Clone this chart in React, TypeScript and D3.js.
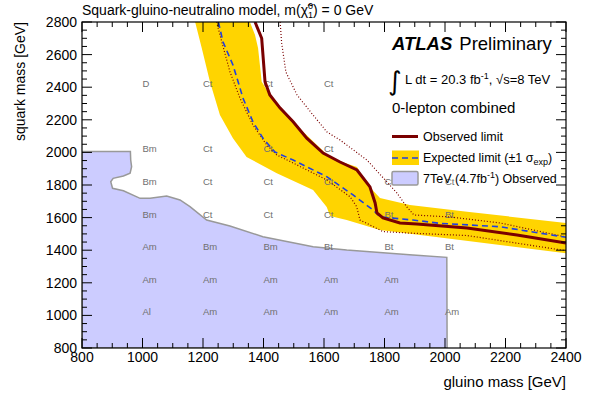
import React, { useEffect } from "react";
import * as d3 from "d3";

const W = 596;
const H = 397;

const xTicks = [800, 1000, 1200, 1400, 1600, 1800, 2000, 2200, 2400];
const yTicks = [800, 1000, 1200, 1400, 1600, 1800, 2000, 2200, 2400, 2600, 2800];

// [gluino, squark]
const observed: [number, number][] = [
  [1372, 2800], [1394, 2700], [1405, 2434], [1421, 2352], [1455, 2272], [1498, 2188],
  [1543, 2087], [1597, 1996], [1653, 1941], [1709, 1892], [1752, 1788], [1769, 1690],
  [1775, 1628], [1795, 1598], [1851, 1567], [1907, 1561], [2073, 1536], [2238, 1493], [2400, 1444],
];
const expected: [number, number][] = [
  [1251, 2800], [1266, 2679], [1299, 2536], [1316, 2434], [1332, 2334], [1365, 2188],
  [1398, 2088], [1438, 2002], [1498, 1953], [1609, 1851], [1696, 1739], [1762, 1647],
  [1785, 1604], [1894, 1585], [1983, 1565], [2182, 1544], [2400, 1479],
];
const obsMinus: [number, number][] = [
  [1245, 2800], [1262, 2679], [1289, 2495], [1322, 2334], [1365, 2168], [1411, 2045],
  [1444, 1984], [1498, 1935], [1609, 1831], [1686, 1728], [1708, 1667], [1719, 1585],
  [1741, 1565], [1795, 1514], [1894, 1504], [2073, 1490], [2400, 1397],
];
const obsPlus: [number, number][] = [
  [1455, 2800], [1460, 2671], [1474, 2493], [1511, 2352], [1564, 2229], [1610, 2125],
  [1653, 2076], [1742, 1953], [1802, 1831], [1841, 1751], [1874, 1665], [1897, 1616],
  [2017, 1604], [2182, 1567], [2400, 1481],
];
const bandUpper: [number, number][] = [
  [1355, 2800], [1372, 2720], [1382, 2640], [1394, 2434], [1427, 2334], [1477, 2229],
  [1531, 2127], [1587, 2027], [1620, 1966], [1709, 1910], [1739, 1812], [1785, 1720],
  [1884, 1677], [2073, 1636], [2400, 1567],
];
const bandLower: [number, number][] = [
  [1174, 2800], [1196, 2639], [1223, 2434], [1256, 2229], [1299, 2087], [1344, 1972],
  [1444, 1872], [1564, 1769], [1609, 1665], [1620, 1610], [1675, 1585], [1785, 1524],
  [2050, 1463], [2400, 1381],
];
const excluded7TeV: [number, number][] = [
  [800, 2005], [960, 2005], [961, 1953], [964, 1912], [959, 1872], [937, 1855], [903, 1841],
  [895, 1820], [901, 1780], [937, 1765], [992, 1718], [1025, 1718], [1080, 1733],
  [1124, 1708], [1157, 1667], [1212, 1585], [1289, 1548], [1398, 1483], [1564, 1421],
  [1675, 1401], [1894, 1371], [2006, 1356], [2007, 800], [800, 800],
];

const labelGluino = [1000, 1200, 1400, 1600, 1800, 2000];
const labelSquark = [2400, 2000, 1800, 1600, 1400, 1200, 1000];
const labelRows = [
  ["D", "Ct", "Ct", "Ct", "", ""],
  ["Bm", "Ct", "Ct", "Ct", "", ""],
  ["Bm", "Ct", "Ct", "Ct", "Ct", "Ct"],
  ["Bm", "Ct", "Ct", "Ct", "Bt", "Bt"],
  ["Am", "Bm", "Bm", "Bt", "Bt", "Bt"],
  ["Am", "Am", "Am", "Am", "Am", ""],
  ["Al", "Am", "Am", "Am", "Am", "Am"],
];

const FONT = "'Liberation Sans', Arial, Helvetica, sans-serif";
const X0 = 82, X1 = 566, Y0 = 22, Y1 = 348;

export default function App() {
  useEffect(() => {
    document.body.style.margin = "0";
  }, []);
  const x = d3.scaleLinear().domain([800, 2400]).range([X0, X1]);
  const y = d3.scaleLinear().domain([800, 2800]).range([Y1, Y0]);
  const line = d3.line<[number, number]>().x((d) => x(d[0])).y((d) => y(d[1]));
  const band = line([...bandUpper, ...bandLower.slice().reverse()]) + "Z";

  const xMinor = d3.range(800, 2401, 50);
  const yMinor = d3.range(800, 2801, 50);
  const isMajor = (v: number) => v % 200 === 0;

  return (
    <svg width={W} height={H} style={{ position: "absolute", left: 0, top: 0, background: "#fff" }} fontFamily={FONT}>
      <defs>
        <clipPath id="plot">
          <rect x={X0} y={Y0} width={X1 - X0} height={Y1 - Y0} />
        </clipPath>
      </defs>
      <rect x={0} y={0} width={W} height={H} fill="#fff" />
      <g clipPath="url(#plot)">
        <path d={line(excluded7TeV) + "Z"} fill="#ccccff" stroke="#999" strokeWidth={1.5} />
        <path d={band} fill="#ffd400" />
        {labelRows.map((row, i) =>
          row.map((t, j) =>
            t ? (
              <text key={`${i}-${j}`} x={x(labelGluino[j])} y={y(labelSquark[i])} fontSize={9.5} fill="#707070">
                {t}
              </text>
            ) : null
          )
        )}
        <path d={line(obsMinus)!} fill="none" stroke="#7a0000" strokeWidth={1.2} strokeDasharray="1 2" />
        <path d={line(obsPlus)!} fill="none" stroke="#7a0000" strokeWidth={1.2} strokeDasharray="1 2" />
        <path d={line(expected)!} fill="none" stroke="#2040e0" strokeWidth={1.6} strokeDasharray="6 4" />
        <path d={line(observed)!} fill="none" stroke="#7a0000" strokeWidth={3} />
      </g>
      {xMinor.map((v) => {
        const l = isMajor(v) ? 10 : 5;
        return (
          <g key={"xt" + v} stroke="#000" strokeWidth={1}>
            <line x1={x(v)} x2={x(v)} y1={Y1} y2={Y1 - l} />
            <line x1={x(v)} x2={x(v)} y1={Y0} y2={Y0 + l} />
          </g>
        );
      })}
      {yMinor.map((v) => {
        const l = isMajor(v) ? 10 : 5;
        return (
          <g key={"yt" + v} stroke="#000" strokeWidth={1}>
            <line x1={X0} x2={X0 + l} y1={y(v)} y2={y(v)} />
            <line x1={X1} x2={X1 - l} y1={y(v)} y2={y(v)} />
          </g>
        );
      })}
      <rect x={X0} y={Y0} width={X1 - X0} height={Y1 - Y0} fill="none" stroke="#000" strokeWidth={1.2} />
      {xTicks.map((v) => (
        <text key={"xl" + v} x={x(v)} y={Y1 + 14} textAnchor="middle" fontSize={14}>
          {v}
        </text>
      ))}
      {yTicks.map((v) => (
        <text key={"yl" + v} x={X0 - 5} y={y(v) + 5} textAnchor="end" fontSize={14}>
          {v}
        </text>
      ))}
      <text x={X1} y={387} textAnchor="end" fontSize={15}>gluino mass [GeV]</text>
      <text transform={`translate(25,${Y0}) rotate(-90)`} textAnchor="end" fontSize={14}>squark mass [GeV]</text>
      <text x={X0} y={15} fontSize={14}>
        Squark-gluino-neutralino model, m(
        <tspan>χ̃</tspan>
        <tspan fontSize={9} dy={-6}>0</tspan>
        <tspan fontSize={9} dx={-5} dy={9}>1</tspan>
        <tspan dy={-3}>) = 0 GeV</tspan>
      </text>
      <text x={392} y={50} fontSize={18.5}>
        <tspan fontWeight="bold" fontStyle="italic">ATLAS</tspan>
        <tspan dx={7}>Preliminary</tspan>
      </text>
      <text x={388} y={90} fontSize={26} fontFamily="'DejaVu Sans', sans-serif">∫</text>
      <text x={405} y={84} fontSize={13}>
        L dt = 20.3 fb<tspan fontSize={9} dy={-5}>-1</tspan>
        <tspan dy={5}>,  √s=8 TeV</tspan>
      </text>
      <text x={392} y={113} fontSize={15}>0-lepton combined</text>
      <line x1={392} x2={418} y1={136.5} y2={136.5} stroke="#7a0000" strokeWidth={3} />
      <text x={423} y={141} fontSize={12.5}>Observed limit</text>
      <rect x={392} y={150.5} width={27} height={14.5} fill="#ffd400" />
      <line x1={392} x2={419} y1={158} y2={158} stroke="#2040e0" strokeWidth={1.6} strokeDasharray="6 4" />
      <text x={423} y={162} fontSize={12.5}>
        Expected limit (±1 σ<tspan fontSize={9} dy={3}>exp</tspan>
        <tspan dy={-3}>)</tspan>
      </text>
      <rect x={392} y={171.5} width={26} height={13.5} rx={1.5} fill="#ccccff" stroke="#999" strokeWidth={1.5} />
      <text x={423} y={183} fontSize={12.5}>
        7TeV (4.7fb<tspan fontSize={9} dy={-5}>-1</tspan>
        <tspan dy={5}>) Observed</tspan>
      </text>
    </svg>
  );
}
